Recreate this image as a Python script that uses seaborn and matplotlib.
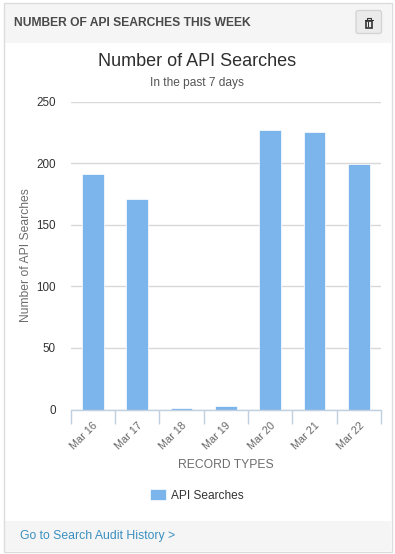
import matplotlib
matplotlib.use("Agg")
import matplotlib.pyplot as plt
from matplotlib.patches import Rectangle, FancyBboxPatch
import pandas as pd
import seaborn as sns

days = ["Mar 16", "Mar 17", "Mar 18", "Mar 19", "Mar 20", "Mar 21", "Mar 22"]
searches = [191, 171, 1, 3, 227, 225, 199]
y_ticks = [0, 50, 100, 150, 200, 250]

W, H = 395, 554
BAR = "#7cb5ec"

sns.set_style("white")
plt.rcParams['font.family'] = ['Liberation Sans', 'DejaVu Sans']

df = pd.DataFrame({"day": days, "searches": searches})

fig = plt.figure(figsize=(W / 100, H / 100), dpi=100)


def rect(x, y, w, h, **kw):
    # panel boxes are given in pixels, top left origin
    # zorder below the axes, figure patches would hide the chart otherwise
    kw.setdefault("zorder", -1)
    fig.add_artist(Rectangle((x / W, 1 - (y + h) / H), w / W, h / H,
                             transform=fig.transFigure, **kw))


def label(x, y, s, **kw):
    fig.text(x / W, 1 - y / H, s, **kw)


# --- panel ---
rect(4, 3, 387, 40, fc="#f5f5f5", ec="none")
rect(4, 521, 387, 30, fc="#f5f5f5", ec="none")
rect(3.5, 2.5, 388, 549, fc="none", ec="#dcdcdc", lw=1)

label(14, 22.5, "NUMBER OF API SEARCHES THIS WEEK", fontsize=8.7, fontweight="bold",
      color="#4a4a4a", va="center", ha="left")
label(19.5, 535.5, "Go to Search Audit History >", fontsize=8.8, color="#3b8fc0",
      va="center", ha="left")

# delete button
fig.add_artist(FancyBboxPatch((356 / W, 1 - 33.5 / H), 25.5 / W, 23 / H,
                              boxstyle="round,pad=0,rounding_size=0.006",
                              mutation_aspect=W / H, transform=fig.transFigure,
                              fc="#ebebeb", ec="#d4d4d4", lw=1, zorder=-1))
rect(364.5, 20, 9, 1.4, fc="#333333", ec="none")
rect(367, 18.2, 4, 1.8, fc="none", ec="#333333", lw=0.8)
rect(365.8, 21.4, 6.4, 6.6, fc="none", ec="#333333", lw=1.2)
rect(367.8, 22.5, 0.8, 4.5, fc="#333333", ec="none")
rect(369.5, 22.5, 0.8, 4.5, fc="#333333", ec="none")

label(197.5, 61.5, "Number of API Searches", fontsize=13, color="#2f2f2f",
      va="center", ha="center")
label(197, 83, "In the past 7 days", fontsize=8.6, color="#555555",
      va="center", ha="center")

# --- chart ---
ax = fig.add_axes([70.5 / W, 1 - 409.5 / H, 310.5 / W, 308 / H])
ax.set_facecolor("none")
# thin white edge, the gridlines stop just short of each bar
sns.barplot(data=df, x="day", y="searches", color=BAR, saturation=1, width=0.49,
            edgecolor="white", linewidth=0.5, ax=ax, label="API Searches", zorder=3)

ax.set_ylim(0, 250)
ax.set_xlim(-0.5, len(days) - 0.5)
ax.set_yticks(y_ticks)
ax.grid(axis="y", color="#d8d8d8", lw=1)
ax.set_axisbelow(True)
sns.despine(ax=ax, left=True)
ax.spines["bottom"].set_color("#c0d0e0")
ax.spines["bottom"].set_linewidth(1)
ax.spines["bottom"].set_zorder(4)

ax.tick_params(axis="y", length=0, pad=10.5, labelsize=8.4, labelcolor="#333333")
ax.set_xticks([i - 0.5 for i in range(len(days) + 1)], minor=True)
ax.tick_params(axis="x", which="minor", length=10, width=1, color="#c0d0e0", bottom=True)
ax.tick_params(axis="x", which="major", length=0, pad=8, labelsize=7.8, labelcolor="#666666")
for t in ax.get_xticklabels():
    t.set_rotation(45)
    t.set_ha("right")
    t.set_rotation_mode("anchor")

ax.set_xlabel("RECORD TYPES", fontsize=8.7, color="#6d6d6d", labelpad=5)
ax.set_ylabel("Number of API Searches", fontsize=8.7, color="#6d6d6d", labelpad=3)

ax.legend(loc="center", bbox_to_anchor=(197 / W, 1 - 495.5 / H),
          bbox_transform=fig.transFigure, frameon=False, fontsize=8.6,
          labelcolor="#333333", handlelength=1.35, handleheight=1.05, handletextpad=0.45)

fig.savefig("out.png", dpi=100)
plt.close(fig)
